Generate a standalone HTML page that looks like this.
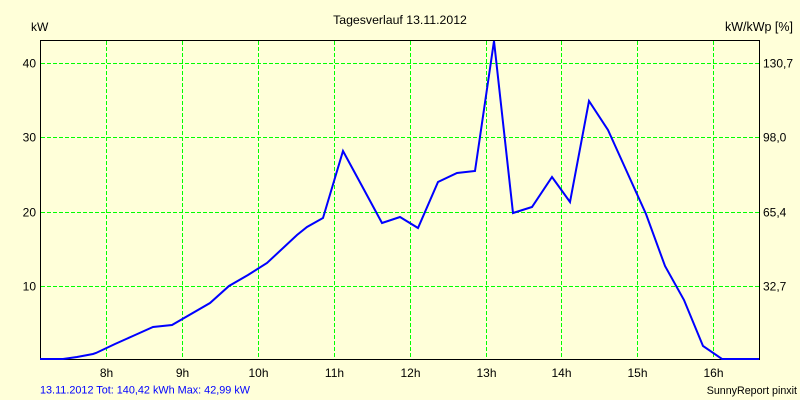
<!DOCTYPE html>
<html>
<head>
<meta charset="utf-8">
<style>
  html, body { margin:0; padding:0; background:#FFFFD9; }
  svg { display:block; }
  text { font-family: "Liberation Sans", Arial, sans-serif; fill:#000; }
</style>
</head>
<body>
<svg width="800" height="400" viewBox="0 0 800 400" xmlns="http://www.w3.org/2000/svg">
  <rect x="0" y="0" width="800" height="400" fill="#FFFFD9"/>

  <!-- grid -->
  <g stroke="#00FF00" stroke-width="1" stroke-dasharray="4 2" shape-rendering="crispEdges" fill="none">
    <line x1="106.5" y1="41" x2="106.5" y2="359"/>
    <line x1="182.5" y1="41" x2="182.5" y2="359"/>
    <line x1="258.5" y1="41" x2="258.5" y2="359"/>
    <line x1="334.5" y1="41" x2="334.5" y2="359"/>
    <line x1="410.5" y1="41" x2="410.5" y2="359"/>
    <line x1="486.5" y1="41" x2="486.5" y2="359"/>
    <line x1="561.5" y1="41" x2="561.5" y2="359"/>
    <line x1="637.5" y1="41" x2="637.5" y2="359"/>
    <line x1="713.5" y1="41" x2="713.5" y2="359"/>
    <line x1="41" y1="63.5" x2="759" y2="63.5"/>
    <line x1="41" y1="137.5" x2="759" y2="137.5"/>
    <line x1="41" y1="212.5" x2="759" y2="212.5"/>
    <line x1="41" y1="286.5" x2="759" y2="286.5"/>
  </g>

  <!-- frame -->
  <rect x="40.5" y="40.5" width="719" height="319" fill="none" stroke="#000" stroke-width="1" shape-rendering="crispEdges"/>

  <!-- series -->
  <polyline fill="none" stroke="#0000FF" stroke-width="2" stroke-linejoin="miter"
    points="40,359 63,359 77,357 93,354 96,353 115,344 134,335.5 153,327 172,325 210,303 229,286 248,275 267,263 297,235 307,227 323,218 343,151 362,186 382,223 400,217 418,228 438,182 457,173 475,171 494,41 513,213 532,207 552,177 570,202 589,101 608,130 627,172 646,214 665,266 684,300 703,346 722,359 759,359"/>

  <!-- title -->
  <text x="400" y="24" font-size="12.3" text-anchor="middle">Tagesverlauf 13.11.2012</text>

  <!-- axis titles -->
  <text x="31" y="31" font-size="12">kW</text>
  <text x="793" y="31" font-size="12.5" text-anchor="end">kW/kWp [%]</text>

  <!-- left labels -->
  <g font-size="12" text-anchor="end">
    <text x="36" y="67.7">40</text>
    <text x="36" y="141.7">30</text>
    <text x="36" y="216.7">20</text>
    <text x="36" y="290.5">10</text>
  </g>

  <!-- right labels -->
  <g font-size="12">
    <text x="763" y="67.7">130,7</text>
    <text x="763" y="141.7">98,0</text>
    <text x="763" y="216.7">65,4</text>
    <text x="763" y="290.5">32,7</text>
  </g>

  <!-- hour labels -->
  <g font-size="12" text-anchor="middle">
    <text x="106.5" y="377">8h</text>
    <text x="182.5" y="377">9h</text>
    <text x="258.5" y="377">10h</text>
    <text x="334.5" y="377">11h</text>
    <text x="410.5" y="377">12h</text>
    <text x="486.5" y="377">13h</text>
    <text x="561.5" y="377">14h</text>
    <text x="637.5" y="377">15h</text>
    <text x="713.5" y="377">16h</text>
  </g>

  <!-- footer -->
  <text x="40" y="393.3" font-size="10.8" style="fill:#0000FF" textLength="210" lengthAdjust="spacingAndGlyphs">13.11.2012 Tot: 140,42 kWh Max: 42,99 kW</text>
  <text x="797" y="394" font-size="10.7" text-anchor="end">SunnyReport pinxit</text>
</svg>
</body>
</html>
